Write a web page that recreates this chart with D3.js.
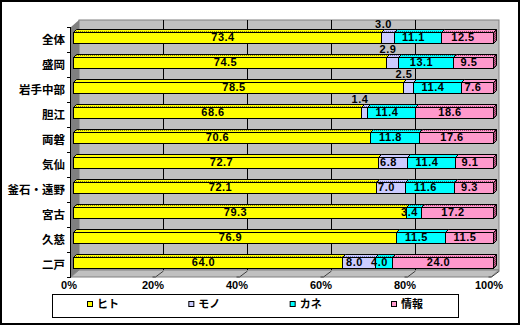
<!DOCTYPE html>
<html>
<head>
<meta charset="utf-8">
<script src="https://cdn.jsdelivr.net/npm/d3@7/dist/d3.min.js"></script>
<style>
  html, body { margin: 0; padding: 0; background: #fff; }
  svg { display: block; }
</style>
</head>
<body>
<svg id="chart" width="521" height="326"></svg>
<script>
// Regions and the four resource shares (percent)
const categories = ["全体", "盛岡", "岩手中部", "胆江", "両磐", "気仙", "釜石・遠野", "宮古", "久慈", "二戸"];
const seriesNames = ["ヒト", "モノ", "カネ", "情報"];
const hito = [73.4, 74.5, 78.5, 68.6, 70.6, 72.7, 72.1, 79.3, 76.9, 64.0];
const mono = [3.0, 2.9, 2.5, 1.4, 0, 6.8, 7.0, 0, 0, 8.0];
const kane = [11.1, 13.1, 11.4, 11.4, 11.8, 11.4, 11.6, 3.4, 11.5, 4.0];
const joho = [12.5, 9.5, 7.6, 18.6, 17.6, 9.1, 9.3, 17.2, 11.5, 24.0];
const tickValues = [0, 20, 40, 60, 80, 100];
const tickLabels = ["0%", "20%", "40%", "60%", "80%", "100%"];

const colors = ["#ffff00", "#ccccff", "#00ffff", "#ff99cc"];
const dotColors = ["#8a8a00", "#7070c0", "#008888", "#a04070"];

const seriesValues = [hito, mono, kane, joho];
const rows = categories.map((c, i) => {
  const vals = seriesValues.map(s => s[i]);
  const total = d3.sum(vals);
  let acc = 0;
  const segs = vals.map((v, k) => {
    const s = { key: seriesNames[k], k, value: v, x0: acc / total * 100 };
    acc += v;
    s.x1 = acc / total * 100;
    return s;
  });
  return { category: c, segs };
});

const svg = d3.select("#chart");
const defs = svg.append("defs");

// Dotted texture for the top faces of the bars
colors.forEach((c, k) => {
  const p = defs.append("pattern").attr("id", "top" + k)
    .attr("patternUnits", "userSpaceOnUse").attr("width", 2).attr("height", 3);
  p.append("rect").attr("width", 2).attr("height", 3).attr("fill", c);
  p.append("rect").attr("x", 0).attr("y", 1).attr("width", 1).attr("height", 1).attr("fill", dotColors[k]);
});
const sideP = defs.append("pattern").attr("id", "side")
  .attr("patternUnits", "userSpaceOnUse").attr("width", 2).attr("height", 2);
sideP.append("rect").attr("width", 2).attr("height", 2).attr("fill", "#c06090");
sideP.append("rect").attr("width", 1).attr("height", 1).attr("fill", "#803050");
sideP.append("rect").attr("x", 1).attr("y", 1).attr("width", 1).attr("height", 1).attr("fill", "#803050");

// Outer frame
svg.append("rect").attr("x", 1).attr("y", 1).attr("width", 518).attr("height", 323)
  .attr("fill", "#fff").attr("stroke", "#000").attr("stroke-width", 2);

// Scales on the front plane of the 3D box
const x = d3.scaleLinear().domain([0, 100]).range([71, 491]);
const y = d3.scaleBand().domain(categories).range([27, 277]);
const depth = { dx: 8, dy: -7 };   // front plane -> back wall
const barShift = { dx: 2, dy: -2 }; // front plane -> bar front face
const barDepth = 3;                 // bar thickness into the page
const barH = 11;

const [yTop, yBot] = y.range();
const [xL, xR] = x.range();

// Back wall
svg.append("rect")
  .attr("x", xL + depth.dx).attr("y", yTop + depth.dy)
  .attr("width", xR - xL).attr("height", yBot - yTop)
  .attr("fill", "#c0c0c0").attr("stroke", "#808080").attr("stroke-width", 1);

// Left wall
svg.append("polygon")
  .attr("points", [[xL, yTop], [xL + depth.dx, yTop + depth.dy], [xL + depth.dx, yBot + depth.dy], [xL, yBot]].join(" "))
  .attr("fill", "#808080");

// Floor
svg.append("polygon")
  .attr("points", [[xL, yBot], [xL + depth.dx, yBot + depth.dy], [xR + depth.dx, yBot + depth.dy], [xR, yBot]].join(" "))
  .attr("fill", "#c0c0c0").attr("stroke", "#808080").attr("stroke-width", 1);

// Vertical gridlines on the back wall and across the floor
const grid = svg.append("g").attr("stroke", "#000").attr("stroke-width", 1).attr("fill", "none");
tickValues.slice(1, -1).forEach(v => {
  const xb = Math.round(x(v) + depth.dx) + 0.5;
  grid.append("line").attr("x1", xb).attr("x2", xb)
    .attr("y1", yTop + depth.dy).attr("y2", yBot + depth.dy);
});
tickValues.slice(1).forEach(v => {
  const xb = Math.round(x(v) + depth.dx) + 0.5;
  const xf = Math.round(x(v)) + 0.5;
  grid.append("path").attr("stroke", "#404040")
    .attr("d", `M${xb},${yBot + depth.dy + 1}L${xf},${yBot}h-3`);
});

// Category axis line and ticks
const axisG = svg.append("g").attr("stroke", "#000").attr("stroke-width", 1);
axisG.append("line").attr("x1", xL - 0.5).attr("x2", xL - 0.5).attr("y1", yTop).attr("y2", yBot);
categories.concat([null]).forEach((c, i) => {
  const yy = Math.round(yTop + i * y.step()) + 0.5;
  axisG.append("line").attr("x1", xL - 4).attr("x2", xL).attr("y1", yy).attr("y2", yy);
});

// Bars
const fmt = d3.format(".1f");
const barsG = svg.append("g");
rows.forEach(r => {
  const top = Math.round(y(r.category) + y.bandwidth() / 2 + barShift.dy - barH / 2);
  const bx = v => Math.round(x(v) + barShift.dx);
  const g = barsG.append("g");
  r.segs.filter(s => s.value > 0).forEach(s => {
    const a = bx(s.x0), b = bx(s.x1);
    g.append("polygon")
      .attr("points", [[a + 0.5, top + 0.5], [a + barDepth + 0.5, top - barDepth + 0.5], [b + barDepth + 0.5, top - barDepth + 0.5], [b + 0.5, top + 0.5]].join(" "))
      .attr("fill", `url(#top${s.k})`).attr("stroke", "#000").attr("stroke-width", 1);
    g.append("rect")
      .attr("x", a + 0.5).attr("y", top + 0.5)
      .attr("width", b - a).attr("height", barH)
      .attr("fill", colors[s.k]).attr("stroke", "#000").attr("stroke-width", 1);
  });
  const end = bx(100);
  g.append("polygon")
    .attr("points", [[end + 0.5, top + 0.5], [end + barDepth + 0.5, top - barDepth + 0.5], [end + barDepth + 0.5, top - barDepth + barH + 0.5], [end + 0.5, top + barH + 0.5]].join(" "))
    .attr("fill", "url(#side)").attr("stroke", "#000").attr("stroke-width", 1);

  // Value labels; small モノ shares sit above the bar
  r.segs.filter(s => s.value > 0).forEach(s => {
    const cx = (bx(s.x0) + bx(s.x1)) / 2 - 4;
    const raised = s.key === "モノ" && s.value < 5;
    g.append("text")
      .attr("x", cx).attr("y", raised ? top - 4 : top + 8.5)
      .attr("text-anchor", "middle")
      .attr("font-family", "'Liberation Sans', Arial, sans-serif")
      .attr("font-weight", "bold").attr("font-size", 11)
      .attr("letter-spacing", 0.5)
      .attr("fill", "#000")
      .text(fmt(s.value));
  });
});

// Category labels
svg.append("g").selectAll("text").data(categories).join("text")
  .attr("x", 65).attr("y", d => y(d) + y.bandwidth() / 2)
  .attr("dy", "0.36em")
  .attr("text-anchor", "end")
  .attr("font-family", "'Noto Sans CJK JP', sans-serif")
  .attr("font-weight", "bold").attr("font-size", 11.5)
  .attr("fill", "#000")
  .text(d => d);

// Percent axis labels
svg.append("g").selectAll("text").data(tickValues).join("text")
  .attr("x", d => x(d) - 2).attr("y", 289)
  .attr("text-anchor", "middle")
  .attr("font-family", "'Liberation Sans', Arial, sans-serif")
  .attr("font-weight", "bold").attr("font-size", 11)
  .attr("fill", "#000")
  .text((d, i) => tickLabels[i]);

// Legend
const legend = svg.append("g");
legend.append("rect").attr("x", 52.5).attr("y", 294.5).attr("width", 406).attr("height", 23)
  .attr("fill", "#fff").attr("stroke", "#000").attr("stroke-width", 1);
const lx = d3.scalePoint().domain(seriesNames).range([87, 391]);
seriesNames.forEach((n, k) => {
  legend.append("rect").attr("x", lx(n) + 0.5).attr("y", 301.5).attr("width", 5).attr("height", 5)
    .attr("fill", colors[k]).attr("stroke", "#000").attr("stroke-width", 1);
  legend.append("text").attr("x", lx(n) + 10).attr("y", 304.5).attr("dy", "0.36em")
    .attr("font-family", "'Noto Sans CJK JP', sans-serif")
    .attr("font-weight", "bold").attr("font-size", 11)
    .attr("fill", "#000")
    .text(n);
});
</script>
</body>
</html>
